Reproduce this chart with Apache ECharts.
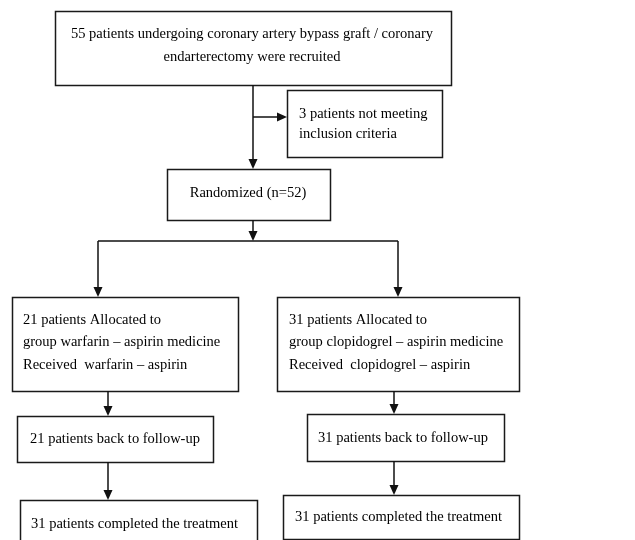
<!DOCTYPE html>
<html>
<head>
<meta charset="utf-8">
<script src="https://cdn.jsdelivr.net/npm/echarts@6/dist/echarts.min.js"></script>
<style>html,body{margin:0;padding:0;background:#fff;}#c{width:635px;height:540px;}</style>
</head>
<body>
<div id="c"></div>
<script>
// Flowchart boxes: [x0, y0, x1, y1] in chart units (x: 0-635, y: 0-540 top-down)
var boxes = [
  [55, 11, 451, 85],     // recruited
  [287, 90, 442, 157],   // excluded
  [167, 169, 330, 220],  // randomized
  [12, 297, 238, 391],   // warfarin group
  [277, 297, 519, 391],  // clopidogrel group
  [17, 416, 213, 462],   // warfarin follow-up
  [307, 414, 504, 461],  // clopidogrel follow-up
  [20, 500, 257, 560],   // warfarin completed
  [283, 495, 519, 539]   // clopidogrel completed
];
// Text lines: [text, x, y, align]
var textLines = [
  ["55 patients undergoing coronary artery bypass graft / coronary", 252, 34, "center"],
  ["endarterectomy were recruited", 252, 57, "center"],
  ["3 patients not meeting", 299, 114, "left"],
  ["inclusion criteria", 299, 134, "left"],
  ["Randomized (n=52)", 248, 193, "center"],
  ["21 patients Allocated to", 23, 320, "left"],
  ["group warfarin \u2013 aspirin medicine", 23, 342, "left"],
  ["Received  warfarin \u2013 aspirin", 23, 365, "left"],
  ["31 patients Allocated to", 289, 320, "left"],
  ["group clopidogrel \u2013 aspirin medicine", 289, 342, "left"],
  ["Received  clopidogrel \u2013 aspirin", 289, 365, "left"],
  ["21 patients back to follow-up", 30, 439, "left"],
  ["31 patients back to follow-up", 318, 438, "left"],
  ["31 patients completed the treatment", 31, 524, "left"],
  ["31 patients completed the treatment", 295, 517, "left"]
];
// Connectors: [x0, y0, x1, y1, hasArrow]
var connectors = [
  [253, 85, 253, 169, 1],
  [253, 117, 287, 117, 1],
  [253, 220, 253, 241, 1],
  [98, 241, 398, 241, 0],
  [98, 241, 98, 297, 1],
  [398, 241, 398, 297, 1],
  [108, 391, 108, 416, 1],
  [108, 462, 108, 500, 1],
  [394, 391, 394, 414, 1],
  [394, 461, 394, 495, 1]
];

var chart = echarts.init(document.getElementById('c'));
var FONT = "'Liberation Serif', 'Times New Roman', serif";
chart.setOption({
  animation: false,
  backgroundColor: '#fff',
  grid: {left: 0, right: 0, top: 0, bottom: 0},
  xAxis: {type: 'value', min: 0, max: 635, show: false},
  yAxis: {type: 'value', min: 0, max: 540, inverse: true, show: false},
  series: [
    {
      type: 'custom',
      coordinateSystem: 'cartesian2d',
      data: boxes,
      z: 2,
      renderItem: function (params, api) {
        var p0 = api.coord([api.value(0), api.value(1)]);
        var p1 = api.coord([api.value(2), api.value(3)]);
        return {
          type: 'rect',
          shape: {x: Math.round(p0[0]) + 0.5, y: Math.round(p0[1]) + 0.5, width: Math.round(p1[0] - p0[0]), height: Math.round(p1[1] - p0[1])},
          style: {fill: '#fff', stroke: '#1a1a1a', lineWidth: 1.5}
        };
      }
    },
    {
      type: 'custom',
      coordinateSystem: 'cartesian2d',
      z: 3,
      data: connectors,
      renderItem: function (params, api) {
        var p0 = api.coord([api.value(0), api.value(1)]);
        var p1 = api.coord([api.value(2), api.value(3)]);
        var arrow = api.value(4);
        var dx = p1[0] - p0[0], dy = p1[1] - p0[1];
        var len = Math.sqrt(dx * dx + dy * dy);
        var ux = dx / len, uy = dy / len;
        var L = 10, W = 4.5;
        var children = [{
          type: 'line',
          shape: {x1: p0[0], y1: p0[1], x2: arrow ? p1[0] - ux * (L - 1) : p1[0], y2: arrow ? p1[1] - uy * (L - 1) : p1[1]},
          style: {stroke: '#111', lineWidth: 1.5}
        }];
        if (arrow) {
          var bx = p1[0] - ux * L, by = p1[1] - uy * L;
          children.push({
            type: 'polygon',
            shape: {points: [[p1[0], p1[1]], [bx - uy * W, by + ux * W], [bx + uy * W, by - ux * W]]},
            style: {fill: '#111'}
          });
        }
        return {type: 'group', children: children};
      }
    },
    {
      type: 'custom',
      coordinateSystem: 'cartesian2d',
      z: 4,
      data: textLines.map(function (t) { return [t[1], t[2]]; }),
      renderItem: function (params, api) {
        var t = textLines[params.dataIndex];
        var p = api.coord([api.value(0), api.value(1)]);
        return {
          type: 'text',
          x: p[0], y: p[1],
          style: {text: t[0], textAlign: t[3], textVerticalAlign: 'middle', fill: '#000', font: '14.5px ' + FONT}
        };
      }
    }
  ]
});
</script>
</body>
</html>
